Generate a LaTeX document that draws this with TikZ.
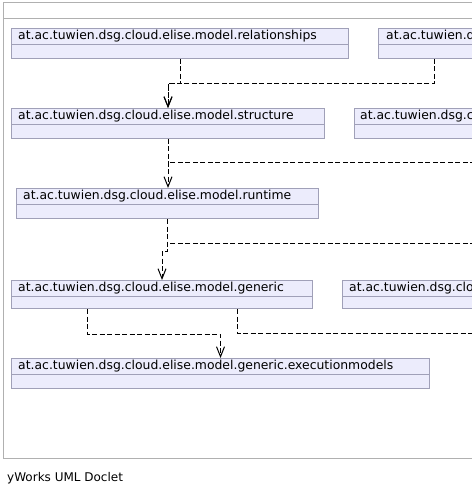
\documentclass[tikz,border=0pt]{standalone}
\usepackage{fontspec}
\setmainfont{DejaVu Sans}
\usetikzlibrary{arrows.meta}
\definecolor{boxfill}{RGB}{236,236,252}
\definecolor{boxline}{RGB}{160,160,184}
\definecolor{frameline}{RGB}{176,176,176}
\begin{document}
\begin{tikzpicture}[x=1bp,y=-1bp,
  pkg/.style={draw=boxline, fill=boxfill, line width=1bp, rectangle, anchor=north west, inner sep=0pt, minimum height=30bp},
  divider/.style={draw=boxline, line width=1bp},
  lbl/.style={anchor=west, inner sep=0pt, font=\fontsize{12.4bp}{14bp}\selectfont, text=black},
  frame/.style={draw=frameline, line width=1bp},
  dashline/.style={draw=black, line width=1bp, dash pattern=on 5bp off 2.5bp},
  dep/.style={dashline, -{Straight Barb[length=10bp,width=8bp]}}
]
\useasboundingbox (0,0) rectangle (472,495);
\clip (0,0) rectangle (472,495);
\fill[white] (0,0) rectangle (472,495);

% frame
\draw[frame] (3,3) rectangle (490,458);
\draw[frame] (3,19) -- (490,19);

% packages
\node[pkg, minimum width=337bp] (rel) at (11,28) {};
\node[pkg, minimum width=300bp] (rb1) at (378,28) {};
\node[pkg, minimum width=313bp] (struct) at (11,108) {};
\node[pkg, minimum width=300bp] (rb2) at (354,108) {};
\node[pkg, minimum width=302bp] (runtime) at (16,188) {};
\node[pkg, minimum width=301bp, minimum height=28bp] (generic) at (11,280) {};
\node[pkg, minimum width=300bp, minimum height=28bp] (rb3) at (342,280) {};
\node[pkg, minimum width=418bp] (exec) at (11,358) {};

\foreach \n in {rel,rb1,struct,rb2,runtime,generic,rb3,exec}{
  \draw[divider] ([yshift=-16.5bp]\n.north west) -- ([yshift=-16.5bp]\n.north east);
}

\node[lbl] (relt) at ([xshift=7bp,yshift=-8.5bp]rel.north west) {at.ac.tuwien.dsg.cloud.elise.model.relationships};
\node[lbl] (rb1t) at ([xshift=8bp,yshift=-8.5bp]rb1.north west) {at.ac.tuwien.dsg.cloud.elise.model};
\node[lbl] (structt) at ([xshift=7bp,yshift=-8.5bp]struct.north west) {at.ac.tuwien.dsg.cloud.elise.model.structure};
\node[lbl] (rb2t) at ([xshift=6bp,yshift=-8.5bp]rb2.north west) {at.ac.tuwien.dsg.cloud.elise.model};
\node[lbl] (runtimet) at ([xshift=7bp,yshift=-8.5bp]runtime.north west) {at.ac.tuwien.dsg.cloud.elise.model.runtime};
\node[lbl] (generict) at ([xshift=7bp,yshift=-8bp]generic.north west) {at.ac.tuwien.dsg.cloud.elise.model.generic};
\node[lbl] (rb3t) at ([xshift=7bp,yshift=-8bp]rb3.north west) {at.ac.tuwien.dsg.cloud.elise.model};
\node[lbl] (exect) at ([xshift=7bp,yshift=-8.5bp]exec.north west) {at.ac.tuwien.dsg.cloud.elise.model.generic.executionmodels};

% off-page ends
\coordinate (offA) at (490,163);
\coordinate (offB) at (490,243);
\coordinate (offC) at (490,333);

% connectors
\draw[dep] (rel.south) -- ++(0,25) -| (struct.north);
\draw[dep] ([xshift=56bp]rb1.south west) -- ++(0,25) -| (struct.north);
\draw[dep] (struct.south) -- (struct.south |- runtime.north);
\draw[dashline] (offA) -- (struct.south |- offA);
\draw[dep] (runtime.south) -- ++(0,32) -| (generic.north);
\draw[dashline] (offB) -- (runtime.south |- offB);
\draw[dep] ([xshift=76bp]generic.south west) -- ++(0,25) -| (exec.north);
\draw[dashline] ([xshift=226bp]generic.south west) |- (offC);

\node[anchor=west, inner sep=0pt, font=\fontsize{12bp}{14bp}\selectfont] (footer) at (7,478) {yWorks UML Doclet};
\end{tikzpicture}
\end{document}
